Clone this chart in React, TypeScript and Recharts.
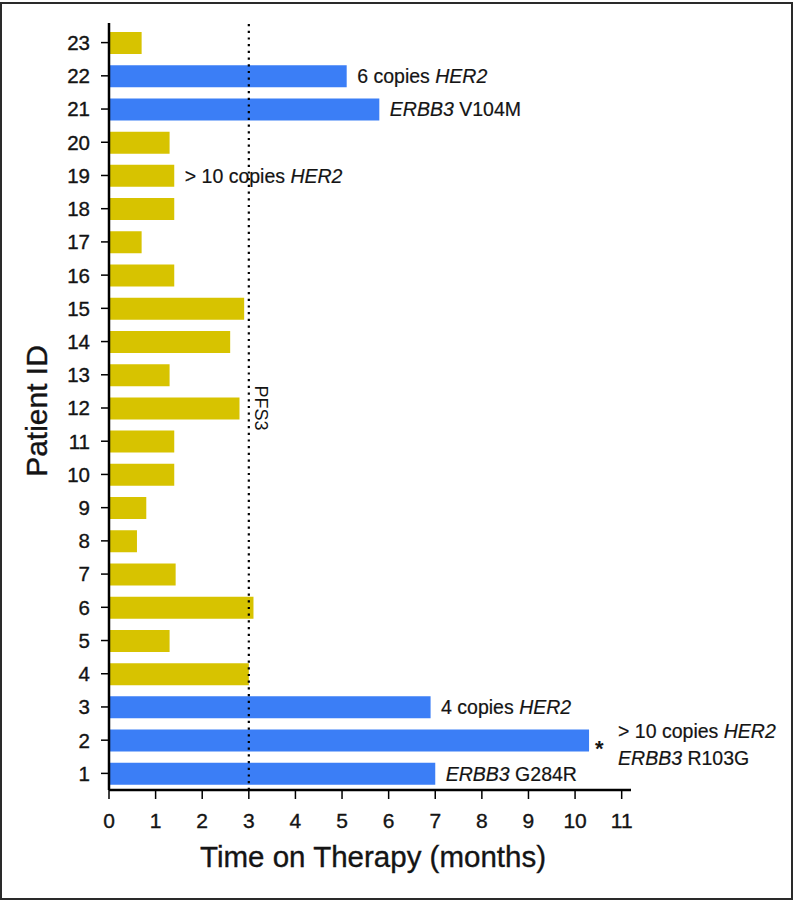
import React from "react";
import {
  BarChart,
  Bar,
  XAxis,
  YAxis,
  Cell,
  ReferenceLine,
  LabelList,
  Label,
} from "recharts";

// ---- data ----
const patientIds = [1, 2, 3, 4, 5, 6, 7, 8, 9, 10, 11, 12, 13, 14, 15, 16, 17, 18, 19, 20, 21, 22, 23];
const monthsOnTherapy = [7.0, 10.3, 6.9, 3.0, 1.3, 3.1, 1.43, 0.6, 0.8, 1.4, 1.4, 2.8, 1.3, 2.6, 2.9, 1.4, 0.7, 1.4, 1.4, 1.3, 5.8, 5.1, 0.7];
const alteredPatients = [1, 2, 3, 21, 22];
const annotatedPatients = [22, 21, 19, 3, 2, 1];
const annotationTexts = [
  "6 copies _HER2_",
  "_ERBB3_ V104M",
  "> 10 copies _HER2_",
  "4 copies _HER2_",
  "> 10 copies _HER2_\n_ERBB3_ R103G",
  "_ERBB3_ G284R",
];
const starredPatients = [2];
const xTicks = [0, 1, 2, 3, 4, 5, 6, 7, 8, 9, 10, 11];
const pfsThreshold = 3;
const pfsLabel = "PFS3";
const xTitle = "Time on Therapy (months)";
const yTitle = "Patient ID";

// ---- styles ----
const FONT = "'Liberation Sans', Arial, Helvetica, sans-serif";
const BLUE = "#3b7ef6";
const GOLD = "#d7c300";
const INK = "#141414";
const HEAVY = { stroke: INK, strokeWidth: 0.35 };

const tableData = patientIds.map((id, i) => {
  const k = annotatedPatients.indexOf(id);
  return {
    id,
    months: monthsOnTherapy[i],
    note: k >= 0 ? annotationTexts[k] : "",
  };
});

function renderSegments(line: string) {
  return line.split("_").map((seg, j) =>
    seg ? (
      <tspan key={j} fontStyle={j % 2 === 1 ? "italic" : "normal"}>
        {seg}
      </tspan>
    ) : null
  );
}

const NoteLabel = (props: any) => {
  const { x, y, width, height, value, index } = props;
  if (!value) return null;
  const id = tableData[index]?.id;
  const starred = starredPatients.includes(id);
  const endX = Number(x) + Number(width);
  const cy = Number(y) + Number(height) / 2;
  const lines = String(value).split("\n");
  const tx = starred ? endX + 29 : endX + 10.5;
  const firstBase = cy + 7 - (lines.length - 1) * 10;
  return (
    <g>
      {starred && (
        <text x={endX + 6} y={cy + 15} fontSize={22} fontWeight="bold" fill={INK} fontFamily={FONT}>
          *
        </text>
      )}
      {lines.map((ln, k) => (
        <text key={k} x={tx} y={firstBase + k * 27} fontSize={19.5} fill={INK} fontFamily={FONT} {...HEAVY} strokeWidth={0.2}>
          {renderSegments(ln)}
        </text>
      ))}
    </g>
  );
};

const YTick = (props: any) => {
  const { x, y, payload } = props;
  return (
    <text x={x} y={y} dy="0.36em" textAnchor="end" fontSize={20.5} fill={INK} fontFamily={FONT} {...HEAVY}>
      {payload.value}
    </text>
  );
};

const XTick = (props: any) => {
  const { x, y, payload } = props;
  return (
    <text x={x} y={y} dy="0.72em" textAnchor="middle" fontSize={21} fill={INK} fontFamily={FONT} {...HEAVY}>
      {payload.value}
    </text>
  );
};

export default function App() {
  return (
    <div style={{ position: "absolute", left: 0, top: 0, width: 793, height: 900, background: "#fff" }}>
      <div
        style={{
          position: "absolute",
          left: 0,
          top: 2,
          width: 793,
          height: 898,
          border: "2px solid #2a2a2a",
          boxSizing: "border-box",
          pointerEvents: "none",
        }}
      />
      <BarChart
        width={793}
        height={900}
        data={tableData}
        layout="vertical"
        margin={{ top: 23, right: 162, bottom: 0, left: 0 }}
      >
        <XAxis
          type="number"
          domain={[0, 11.2]}
          ticks={xTicks}
          allowDataOverflow
          height={110}
          tickSize={9}
          tickMargin={14}
          axisLine={{ stroke: "#000", strokeWidth: 2.5 }}
          tickLine={{ stroke: "#000", strokeWidth: 1.5 }}
          tick={XTick}
        >
          <Label
            content={(p: any) => {
              const vb = p.viewBox || {};
              return (
                <text
                  x={vb.x + vb.width / 2 + 3}
                  y={vb.y + 77}
                  textAnchor="middle"
                  fontSize={29.5}
                  fill={INK}
                  fontFamily={FONT}
                  {...HEAVY}
                >
                  {xTitle}
                </text>
              );
            }}
          />
        </XAxis>
        <YAxis
          type="category"
          dataKey="id"
          reversed
          interval={0}
          width={109}
          padding={{ top: 3, bottom: 0 }}
          tickSize={8}
          tickMargin={11}
          axisLine={{ stroke: "#000", strokeWidth: 2.5 }}
          tickLine={{ stroke: "#000", strokeWidth: 1.5 }}
          tick={YTick}
        >
          <Label
            content={() => (
              <text
                x={47}
                y={411}
                transform="rotate(-90 47 411)"
                textAnchor="middle"
                fontSize={30}
                fill={INK}
                fontFamily={FONT}
                {...HEAVY}
              >
                {yTitle}
              </text>
            )}
          />
        </YAxis>
        <Bar dataKey="months" barSize={22} isAnimationActive={false}>
          {tableData.map((d) => (
            <Cell key={d.id} fill={alteredPatients.includes(d.id) ? BLUE : GOLD} />
          ))}
          <LabelList dataKey="note" content={NoteLabel} />
        </Bar>
        <ReferenceLine
          x={pfsThreshold}
          stroke="#000"
          strokeWidth={2.2}
          strokeDasharray="2.2 4.5"
          label={(p: any) => {
            const vb = p.viewBox || {};
            const cx = vb.x + 12;
            const cy = 408;
            return (
              <text
                x={cx}
                y={cy}
                transform={`rotate(90 ${cx} ${cy})`}
                textAnchor="middle"
                dominantBaseline="central"
                fontSize={18}
                fill={INK}
                fontFamily={FONT}
              >
                {pfsLabel}
              </text>
            );
          }}
        />
      </BarChart>
    </div>
  );
}
